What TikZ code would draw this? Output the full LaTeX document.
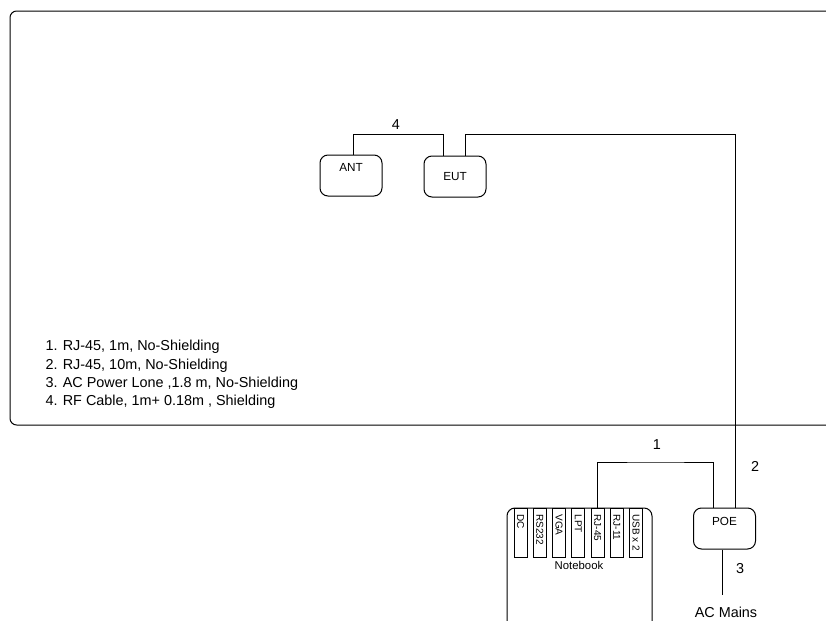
\documentclass[tikz,border=0pt]{standalone}
\usepackage{fontspec}
\setmainfont{Liberation Sans}
\usetikzlibrary{positioning}

\begin{document}
\begin{tikzpicture}[
	x=0.75pt, y=-0.75pt,
	line width=0.75pt,
	unit/.style={draw, rectangle, rounded corners=6pt, align=center, minimum width=46.5pt, minimum height=30.75pt, inner sep=0pt, font=\fontsize{8.8}{10}\selectfont},
	port/.style={draw, rectangle, anchor=north, minimum width=9.75pt, minimum height=36.75pt, inner sep=0pt},
	portname/.style={rotate=-90, anchor=west, inner sep=0pt, font=\fontsize{7.5}{9}\selectfont},
	cablenum/.style={inner sep=0pt, font=\fontsize{10.8}{11}\selectfont}
	]
	\useasboundingbox (0,0) rectangle (826,621);
	
	%==================== room ====================
	\draw[rounded corners=5pt] (826,11) -- (10,11) -- (10,425) -- (826,425);
	
	\node[unit, text depth=12pt] (ant) at (351,175.5) {ANT};
	\node[unit, right=30.75pt of ant, yshift=-0.75pt] (eut) {EUT};
	
	\node[align=left, anchor=north west, inner sep=0pt, font=\fontsize{10.8}{13.6}\selectfont] (legend) at (45,340) {1. RJ-45, 1m, No-Shielding\\2. RJ-45, 10m, No-Shielding\\3. AC Power Lone ,1.8 m, No-Shielding\\4. RF Cable, 1m+ 0.18m , Shielding};
	
	%==================== notebook ====================
	\draw[rounded corners=6pt] (507,621) -- (507,508) -- (652,508) -- (652,621);
	
	\node[port] (dc) at (520.5,508) {};
	\node[port, right=3.95pt of dc] (rs232) {};
	\node[port, right=3.95pt of rs232] (vga) {};
	\node[port, right=3.95pt of vga] (lpt) {};
	\node[port, right=3.95pt of lpt] (rj45) {};
	\node[port, right=3.95pt of rj45] (rj11) {};
	\node[port, right=3.95pt of rj11] (usb) {};
	
	\node[portname] (dctext) at ([yshift=-4.5pt]dc.north) {DC};
	\node[portname] (rs232text) at ([yshift=-4.5pt]rs232.north) {RS232};
	\node[portname] (vgatext) at ([yshift=-4.5pt]vga.north) {VGA};
	\node[portname] (lpttext) at ([yshift=-4.5pt]lpt.north) {LPT};
	\node[portname] (rj45text) at ([yshift=-4.5pt]rj45.north) {RJ-45};
	\node[portname] (rj11text) at ([yshift=-4.5pt]rj11.north) {RJ-11};
	\node[portname] (usbtext) at ([yshift=-4.5pt]usb.north) {USB x 2};
	
	\node[inner sep=0pt, font=\fontsize{8.5}{10}\selectfont] (notebook) at (579,565) {Notebook};
	
	%==================== power ====================
	\node[unit, text depth=10pt] (poe) at (724.5,528.5) {POE};
	\node[inner sep=0pt, font=\fontsize{10.8}{11}\selectfont] (mains) at (726,612) {AC Mains};
	\coordinate (mainsend) at (722,595);
	
	%==================== cables ====================
	\coordinate (bend1) at (656,462);
	\coordinate (bend2) at (600,134.5);
	\coordinate (bend4) at (398,134.5);
	
	\draw ([xshift=1.5pt]ant.north) |- (bend4) -| ([xshift=-9pt]eut.north);
	\draw ([xshift=7.5pt]eut.north) |- (bend2) -| ([xshift=7.9pt]poe.north);
	\draw (rj45.north) |- (bend1) -| ([xshift=-7.9pt]poe.north);
	\draw (poe.south -| mainsend) -- (mainsend);
	
	\node[cablenum] (num4) at (396,125) {4};
	\node[cablenum] (num1) at (657,445) {1};
	\node[cablenum] (num2) at (755,466) {2};
	\node[cablenum] (num3) at (740,569) {3};
	
\end{tikzpicture}
\end{document}
